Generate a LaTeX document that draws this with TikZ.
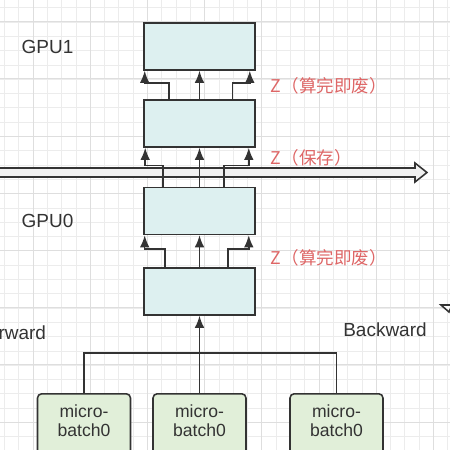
\documentclass[tikz,border=0pt]{standalone}
\usepackage{fontspec}
\setmainfont{Liberation Sans}
\newfontfamily\cjk{Noto Sans CJK SC}
\usetikzlibrary{calc,arrows.meta}
\definecolor{gridc}{RGB}{236,236,236}
\definecolor{gridm}{RGB}{222,222,222}
\definecolor{linec}{RGB}{51,51,51}
\definecolor{layerc}{RGB}{221,240,240}
\definecolor{batchc}{RGB}{225,239,217}
\definecolor{zred}{RGB}{222,102,102}
\tikzset{>={Latex[length=3mm,width=2.4mm]}}
\tikzset{layer/.style={draw=linec, line width=1.1pt, fill=layerc,
    minimum width=2.775cm, minimum height=1.175cm, inner sep=0pt}}
\tikzset{batch/.style={draw=linec, line width=1.1pt, fill=batchc, rounded corners=3pt,
    minimum width=2.325cm, minimum height=1.6cm, align=center, anchor=north,
    text=linec, text depth=7pt, font=\fontsize{12.5}{13.5}\selectfont}}
\tikzset{conn/.style={draw=linec, line width=1.1pt}}
\tikzset{gpulabel/.style={text=linec, font=\fontsize{13.5}{15}\selectfont}}
\tikzset{zlabel/.style={text=zred, anchor=west, font=\cjk\fontsize{12.5}{14}\selectfont}}

\begin{document}
\begin{tikzpicture}[x=0.025cm, y=-0.025cm]

    \clip (0,0) rectangle (450,450);
    \fill[white] (0,0) rectangle (450,450);

    % grid
    \foreach \i in {0,...,31} {
        \draw[gridc, line width=0.5pt] ({4.4+14.3*\i},0) -- ({4.4+14.3*\i},450);
        \draw[gridc, line width=0.5pt] (0,{7.7+14.3*\i}) -- (450,{7.7+14.3*\i});
    }
    \foreach \i in {-5,...,2} {
        \draw[gridm, line width=0.6pt] ({319+57.2*\i},0) -- ({319+57.2*\i},450);
    }
    \foreach \i in {0,...,7} {
        \draw[gridm, line width=0.6pt] (0,{21.7+57.2*\i}) -- (450,{21.7+57.2*\i});
    }

    % layers
    \node[layer] (A) at (199.5,46.5) {};
    \node[layer] (B) at (199.5,123.5) {};
    \node[layer] (C) at (199.5,211) {};
    \node[layer] (D) at (199.5,291.5) {};

    \node[gpulabel] (gpu1) at (47.5,47) {GPU1};
    \node[gpulabel] (gpu0) at (47.5,221) {GPU0};

    % big arrow between the two GPUs
    \draw[draw=linec, line width=1.1pt, fill=gray!12]
        (-3,168) -- (415,168) -- (415,163) -- (427,172.5) -- (415,182) -- (415,177) -- (-3,177) -- cycle;

    % B -> A
    \draw[conn, ->] ($(B.north)+(-30.5,0)$) -- ++(0,-16) -| ($(A.south west)+(1.5,0)$);
    \draw[conn, ->] (B.north) -- (A.south);
    \draw[conn, ->] ($(B.north)+(33,0)$) -- ++(0,-16) -| ($(A.south east)+(-6,0)$);

    % C -> B
    \draw[conn, ->] ($(C.north)+(-36.5,0)$) -- ++(0,-21) -| ($(B.south west)+(2,0)$);
    \draw[conn, ->] (C.north) -- (B.south);
    \draw[conn, ->] ($(C.north)+(24.5,0)$) -- ++(0,-21) -| ($(B.south east)+(-7,0)$);

    % D -> C
    \draw[conn, ->] ($(D.north)+(-34.5,0)$) -- ++(0,-18) -| ($(C.south west)+(1.5,0)$);
    \draw[conn, ->] (D.north) -- (C.south);
    \draw[conn, ->] ($(D.north)+(28.5,0)$) -- ++(0,-18) -| ($(C.south east)+(-7,0)$);

    \node[zlabel] (z1) at (266,86) {Z（算完即废）};
    \node[zlabel] (z2) at (266,158) {Z（保存）};
    \node[zlabel] (z3) at (266,258) {Z（算完即废）};

    \node[gpulabel, anchor=east] (fwd) at (51,333) {Forward};
    \node[gpulabel] (bwd) at (385,330) {Backward};

    % micro-batches
    \node[batch] (m1) at (84,393) {micro-\\batch0};
    \node[batch] (m2) at (199.5,393) {micro-\\batch0};
    \node[batch] (m3) at (336.5,393) {micro-\\batch0};

    \draw[conn] (m1.north) -- ++(0,-40) -| (m3.north);
    \draw[conn, ->] (m2.north) -- (D.south);

    \draw[draw=linec, line width=1.1pt, fill=white] (441,305) -- (452,305) -- (449,312) -- cycle;

\end{tikzpicture}
\end{document}
